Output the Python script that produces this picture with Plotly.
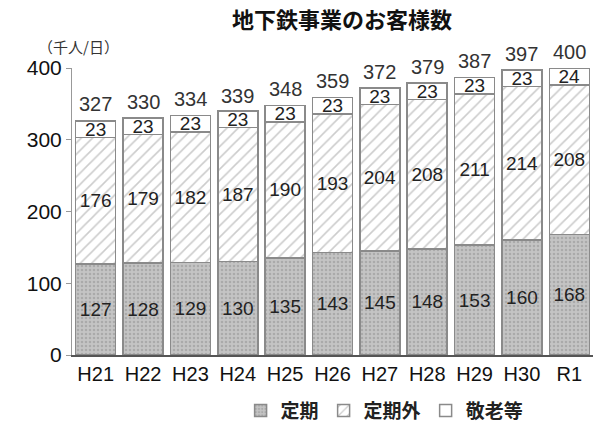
import plotly.graph_objects as go

categories = ["H21", "H22", "H23", "H24", "H25", "H26", "H27", "H28", "H29", "H30", "R1"]
teiki = [127, 128, 129, 130, 135, 143, 145, 148, 153, 160, 168]
teikigai = [176, 179, 182, 187, 190, 193, 204, 208, 211, 214, 208]
keirou = [23, 23, 23, 23, 23, 23, 23, 23, 23, 23, 24]
totals = [327, 330, 334, 339, 348, 359, 372, 379, 387, 397, 400]
y_ticks = [0, 100, 200, 300, 400]

CJK = "Noto Sans CJK JP"
NUM = "Liberation Sans, Arial, sans-serif"
line = dict(color="#8a8a8a", width=1.5)
txtfont = dict(family=NUM, size=19, color="#222222")

fig = go.Figure()
fig.add_trace(go.Bar(
    x=categories, y=teiki, name="定期",
    marker=dict(color="#b9b9b9", line=line,
                pattern=dict(shape=".", fgcolor="#8f8f8f", bgcolor="#c4c4c4", size=4, solidity=0.35)),
    text=teiki, textposition="inside", insidetextanchor="middle", textangle=0,
    textfont=txtfont,
))
fig.add_trace(go.Bar(
    x=categories, y=teikigai, name="定期外",
    marker=dict(color="white", line=line,
                pattern=dict(shape="/", fgcolor="#9a9a9a", bgcolor="white", size=8, solidity=0.2)),
    text=teikigai, textposition="inside", insidetextanchor="middle", textangle=0,
    textfont=txtfont,
))
fig.add_trace(go.Bar(
    x=categories, y=keirou, name="敬老等",
    marker=dict(color="white", line=line),
    text=keirou, textposition="inside", insidetextanchor="middle", textangle=0,
    textfont=txtfont,
))

total_annotations = [
    dict(x=c, y=t, xref="x", yref="y", text=str(t), showarrow=False,
         yanchor="bottom", yshift=3, font=dict(family=NUM, size=20, color="#333333"))
    for c, t in zip(categories, totals)
]

fig.update_layout(
    width=603, height=430,
    margin=dict(l=72, r=10, t=68, b=75, autoexpand=False),
    barmode="stack", bargap=0.155,
    plot_bgcolor="white", paper_bgcolor="white",
    uniformtext=dict(minsize=19, mode="show"),
    title=dict(text="地下鉄事業のお客様数", x=0.567, xanchor="center", y=0.953, yanchor="middle",
               font=dict(family=CJK, size=22, color="#111111", weight="bold")),
    showlegend=True,
    legend=dict(orientation="h", x=0.6, xanchor="center", yref="container", y=0.045, yanchor="middle",
                font=dict(family=CJK, size=19, color="#222222", weight="bold"),
                traceorder="normal", itemwidth=30),
    xaxis=dict(showline=True, linecolor="#555555", linewidth=1.5, ticks="",
               tickfont=dict(family=NUM, size=20, color="#111111")),
    yaxis=dict(range=[0, 400], tickvals=y_ticks, showline=True, linecolor="#999999", linewidth=1,
               ticks="outside", ticklen=5, tickcolor="#999999", showgrid=False, zeroline=False,
               tickfont=dict(family=NUM, size=21, color="#111111")),
    annotations=total_annotations + [
        dict(text="（千人/日）", xref="paper", yref="paper", x=-0.07, y=1.075,
             xanchor="left", yanchor="middle", showarrow=False,
             font=dict(family=CJK, size=15, color="#333333"))],
)

fig.write_html("out.html")
